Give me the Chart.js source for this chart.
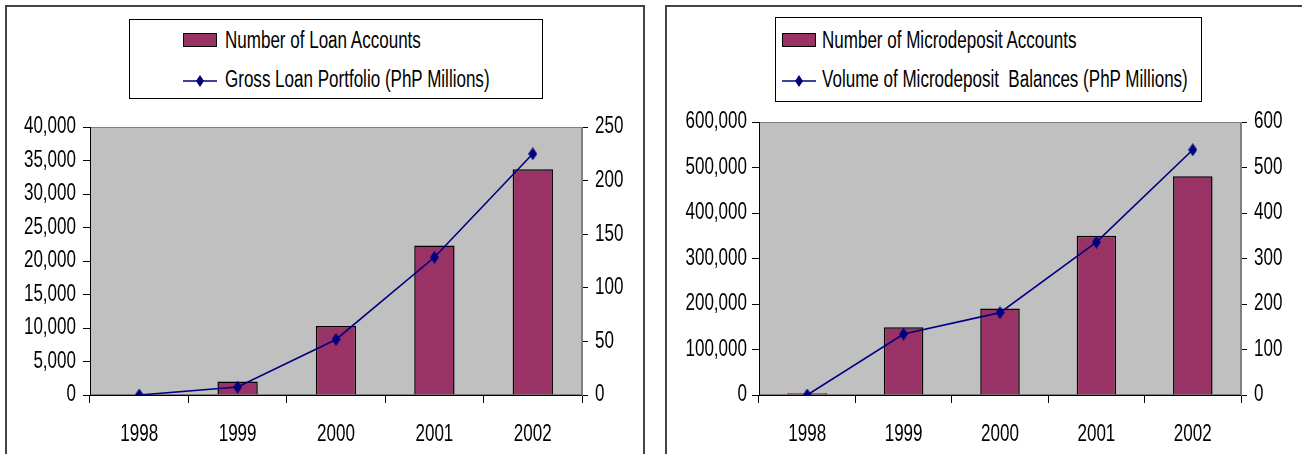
<!DOCTYPE html>
<html>
<head>
<meta charset="utf-8">
<script src="https://cdn.jsdelivr.net/npm/chart.js@4.4.1/dist/chart.umd.min.js"></script>
<style>
  html, body { margin: 0; padding: 0; background: #fff; }
  body { width: 1302px; height: 454px; position: relative; overflow: hidden;
         font-family: 'Liberation Sans', Arial, sans-serif; }
  .frame { position: absolute; border: 2px solid #444; box-sizing: border-box; }
  canvas { position: absolute; top: 0; }
  .legend { position: absolute; border: 1px solid #000; background: #fff; box-sizing: border-box; }
  .legend .sw-bar { position: absolute; width: 34px; height: 14px; box-sizing: border-box; border: 1.5px solid #000; }
  .legend .sw-line { position: absolute; width: 34px; height: 14px; }
  .legend .txt { position: absolute; font-size: 23px; line-height: 24px; color: #000; white-space: pre;
                 transform: scaleX(0.74); transform-origin: 0 50%; }
</style>
</head>
<body>
<div class="frame" style="left:5px; top:5px; width:640px; height:470px;"></div>
<div class="frame" style="left:665px; top:5px; width:660px; height:470px;"></div>
<canvas id="c1" width="650" height="454" style="left:0px;"></canvas>
<canvas id="c2" width="652" height="454" style="left:650px;"></canvas>
<div id="lg1" class="legend" style="left:129px; top:19px; width:414px; height:80px;"></div>
<div id="lg2" class="legend" style="left:775px; top:17px; width:427px; height:85px;"></div>
<script>
// ---- data ----
const years = ['1998', '1999', '2000', '2001', '2002'];
const loanAccounts = [0, 2000, 10300, 22300, 33700];
const grossLoanPortfolio = [0, 7.4, 51.8, 128.5, 225];
const microdepositAccounts = [4000, 149000, 190000, 350000, 481000];
const microdepositBalances = [0, 134, 181, 336, 539];

const loanLabels = ['Number of Loan Accounts', 'Gross Loan Portfolio (PhP Millions)'];
const depositLabels = ['Number of Microdeposit Accounts', 'Volume of Microdeposit  Balances (PhP Millions)'];

const loanAxisLeft = { max: 40000, step: 5000 };
const loanAxisRight = { max: 250, step: 50 };
const depositAxisLeft = { max: 600000, step: 100000 };
const depositAxisRight = { max: 600, step: 100 };

// ---- styles ----
const BAR_COLOR = '#993366';
const LINE_COLOR = '#000080';
const TEXT_SCALE_X = 0.74;
const FONT = { family: "'Liberation Sans', Arial, sans-serif", size: 23 };

// tall, narrow diamond marker
function diamond(w, h, color) {
  const c = document.createElement('canvas');
  c.width = w; c.height = h;
  const g = c.getContext('2d');
  g.fillStyle = color;
  g.beginPath();
  g.moveTo(w / 2, 0); g.lineTo(w, h / 2); g.lineTo(w / 2, h); g.lineTo(0, h / 2);
  g.closePath(); g.fill();
  return c;
}
const marker = diamond(9, 13, LINE_COLOR);

// narrow text: compress glyphs horizontally around their anchor
const narrowText = {
  id: 'narrowText',
  beforeDraw(chart) {
    const ctx = chart.ctx;
    if (ctx.__narrow) return;
    const orig = CanvasRenderingContext2D.prototype.fillText;
    ctx.fillText = function (t, x, y) {
      this.save();
      this.translate(x, y);
      this.scale(TEXT_SCALE_X, 1);
      orig.call(this, t, 0, 0);
      this.restore();
    };
    ctx.__narrow = true;
  }
};

const plotBg = {
  id: 'plotBg',
  beforeDraw(chart) {
    const { ctx, chartArea: a } = chart;
    ctx.save();
    ctx.fillStyle = '#C0C0C0';
    ctx.fillRect(a.left, a.top, a.right - a.left, a.bottom - a.top);
    ctx.strokeStyle = '#808080';
    ctx.lineWidth = 1;
    ctx.strokeRect(a.left + 0.5, a.top + 0.5, a.right - a.left - 1, a.bottom - a.top - 1);
    ctx.restore();
  }
};

function makeChart(id, labels, barData, lineData, names, axL, axR, geom) {
  return new Chart(document.getElementById(id), {
    type: 'bar',
    data: {
      labels: labels,
      datasets: [
        { type: 'bar', label: names[0], data: barData, yAxisID: 'y', order: 2,
          backgroundColor: BAR_COLOR, borderColor: '#000', borderWidth: 1.5,
          barPercentage: 0.41, categoryPercentage: 1.0 },
        { type: 'line', label: names[1], data: lineData, yAxisID: 'y1', order: 1,
          borderColor: LINE_COLOR, borderWidth: 1.6, backgroundColor: LINE_COLOR,
          pointStyle: marker, pointRadius: 6, tension: 0, fill: false }
      ]
    },
    options: {
      responsive: false, animation: false, devicePixelRatio: 1,
      layout: { padding: { top: geom.top, left: 0, right: 0, bottom: 0 } },
      plugins: { legend: { display: false }, tooltip: { enabled: false } },
      scales: {
        x: {
          grid: { offset: true, drawOnChartArea: false, drawTicks: true, tickLength: 8, tickColor: '#000' },
          border: { color: '#000', width: 1 },
          ticks: { color: '#000', font: FONT, padding: 18, maxRotation: 0 },
          afterFit: s => { s.height = geom.xh; }
        },
        y: {
          position: 'left', min: 0, max: axL.max,
          ticks: { stepSize: axL.step, color: '#000', font: FONT, padding: geom.lpad },
          grid: { drawOnChartArea: false, drawTicks: true, tickLength: 7, tickColor: '#000' },
          border: { color: '#000', width: 1 },
          afterFit: s => { s.width = geom.lw; }
        },
        y1: {
          position: 'right', min: 0, max: axR.max,
          ticks: { stepSize: axR.step, color: '#000', font: FONT, padding: 7 },
          grid: { drawOnChartArea: false, drawTicks: true, tickLength: 6, tickColor: '#000' },
          border: { color: '#808080', width: 1 },
          afterFit: s => { s.width = geom.rw; }
        }
      }
    },
    plugins: [narrowText, plotBg]
  });
}

function buildLegend(elId, chart, g) {
  const el = document.getElementById(elId);
  const ds = chart.data.datasets;
  const sw = document.createElement('div');
  sw.className = 'sw-bar';
  sw.style.left = g.swx + 'px'; sw.style.top = (g.y1 - 7) + 'px';
  sw.style.background = ds[0].backgroundColor;
  el.appendChild(sw);
  const t1 = document.createElement('div');
  t1.className = 'txt'; t1.textContent = ds[0].label;
  t1.style.left = g.tx + 'px'; t1.style.top = (g.y1 - 12) + 'px';
  el.appendChild(t1);
  const ns = 'http://www.w3.org/2000/svg';
  const svg = document.createElementNS(ns, 'svg');
  svg.setAttribute('width', '34'); svg.setAttribute('height', '14');
  svg.setAttribute('class', 'sw-line');
  svg.style.left = g.swx + 'px'; svg.style.top = (g.y2 - 7 + 2) + 'px';
  const ln = document.createElementNS(ns, 'line');
  ln.setAttribute('x1', '0'); ln.setAttribute('x2', '34'); ln.setAttribute('y1', '7'); ln.setAttribute('y2', '7');
  ln.setAttribute('stroke', ds[1].borderColor); ln.setAttribute('stroke-width', '1.5');
  svg.appendChild(ln);
  const dm = document.createElementNS(ns, 'polygon');
  dm.setAttribute('points', '17,1 21,7 17,13 13,7');
  dm.setAttribute('fill', ds[1].borderColor);
  svg.appendChild(dm);
  el.appendChild(svg);
  const t2 = document.createElement('div');
  t2.className = 'txt'; t2.textContent = ds[1].label;
  t2.style.left = g.tx + 'px'; t2.style.top = (g.y2 - 12) + 'px';
  el.appendChild(t2);
}

const c1 = makeChart('c1', years, loanAccounts, grossLoanPortfolio, loanLabels,
  loanAxisLeft, loanAxisRight, { top: 127, xh: 59, lw: 90, rw: 650 - 582, lpad: 7 });
const c2 = makeChart('c2', years, microdepositAccounts, microdepositBalances, depositLabels,
  depositAxisLeft, depositAxisRight, { top: 122, xh: 59, lw: 109, rw: 652 - 591, lpad: 5 });

buildLegend('lg1', c1, { swx: 53, tx: 95, y1: 20, y2: 59 });
buildLegend('lg2', c2, { swx: 6, tx: 46, y1: 22, y2: 61 });
</script>
</body>
</html>
